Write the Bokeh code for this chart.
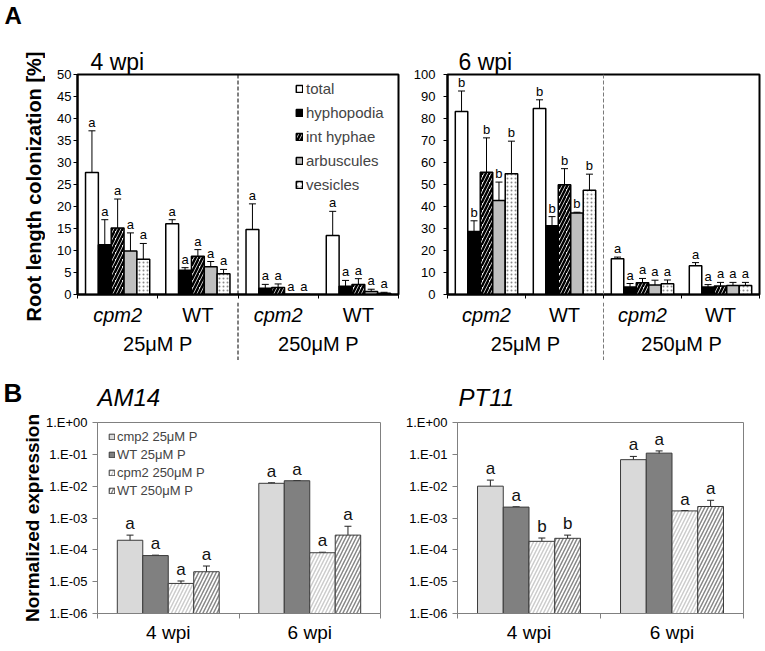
from bokeh.plotting import figure
from bokeh.models import (ColumnDataSource, FixedTicker, Whisker, TeeHead, Legend,
                          LegendItem, Span)
from bokeh.layouts import row, column
from bokeh.embed import file_html
from bokeh.resources import INLINE
from bokeh.core.properties import value

FONT = "Liberation Sans"

# ---------------- Panel A data (root length colonization, %) ----------------
genotypes = ["cpm2", "WT", "cpm2", "WT"]
phosphate = ["25μM P", "250μM P"]
structures = ["total", "hyphopodia", "int hyphae", "arbuscules", "vesicles"]

# 4 wpi  (groups: cpm2 25µM, WT 25µM, cpm2 250µM, WT 250µM)
w4_total = [27.7, 16.1, 14.8, 13.4]
w4_total_err = [9.5, 0.9, 5.8, 5.5]
w4_hyphopodia = [11.3, 5.5, 1.4, 1.9]
w4_hyphopodia_err = [5.7, 0.6, 0.9, 1.3]
w4_inthyphae = [15.1, 8.7, 1.6, 2.3]
w4_inthyphae_err = [6.6, 1.5, 0.8, 1.3]
w4_arbuscules = [9.9, 6.3, 0.0, 0.7]
w4_arbuscules_err = [4.1, 1.2, 0.0, 0.5]
w4_vesicles = [8.0, 4.7, 0.0, 0.3]
w4_vesicles_err = [3.6, 1.0, 0.0, 0.2]
w4_letters = ["a", "a", "a", "a"]
w4_yticks = [0, 5, 10, 15, 20, 25, 30, 35, 40, 45, 50]

# 6 wpi
w6_total = [83.2, 84.5, 16.2, 13.1]
w6_total_err = [9.3, 4.0, 0.8, 1.4]
w6_hyphopodia = [28.6, 31.2, 3.4, 3.4]
w6_hyphopodia_err = [4.9, 4.2, 1.6, 1.1]
w6_inthyphae = [55.6, 49.9, 5.3, 3.9]
w6_inthyphae_err = [15.6, 7.3, 2.0, 1.6]
w6_arbuscules = [42.7, 37.1, 4.3, 4.1]
w6_arbuscules_err = [8.4, 0.3, 2.2, 1.4]
w6_vesicles = [54.9, 47.4, 4.9, 4.1]
w6_vesicles_err = [14.8, 7.3, 1.7, 1.4]
w6_letters = ["b", "b", "a", "a"]
w6_yticks = [0, 10, 20, 30, 40, 50, 60, 70, 80, 90, 100]

# ---------------- Panel B data (normalized expression) ----------------
wpi_labels = ["4 wpi", "6 wpi"]
series_b = ["cmp2 25μM P", "WT 25μM P", "cpm2 250μM P", "WT 250μM P"]
b_tick_values = [1e-6, 1e-5, 1e-4, 1e-3, 1e-2, 1e-1, 1.0]
b_tick_labels = ["1.E-06", "1.E-05", "1.E-04", "1.E-03", "1.E-02", "1.E-01", "1.E+00"]

am14_c25 = [2.0e-4, 1.23e-2]
am14_c25_hi = [2.9e-4, 1.28e-2]
am14_c25_lo = [1.15e-4, 1.18e-2]
am14_w25 = [6.6e-5, 1.48e-2]
am14_w25_hi = [6.8e-5, 1.5e-2]
am14_w25_lo = [6.4e-5, 1.46e-2]
am14_c250 = [8.8e-6, 8.1e-5]
am14_c250_hi = [1.05e-5, 8.4e-5]
am14_c250_lo = [7.4e-6, 7.8e-5]
am14_w250 = [2.05e-5, 2.9e-4]
am14_w250_hi = [3.1e-5, 5.5e-4]
am14_w250_lo = [1.25e-5, 3.7e-5]
am14_letters = [["a", "a"], ["a", "a"], ["a", "a"], ["a", "a"]]

pt11_c25 = [1.0e-2, 6.8e-2]
pt11_c25_hi = [1.55e-2, 8.6e-2]
pt11_c25_lo = [4.6e-3, 5.0e-2]
pt11_w25 = [2.2e-3, 0.109]
pt11_w25_hi = [2.25e-3, 0.128]
pt11_w25_lo = [2.15e-3, 0.086]
pt11_c250 = [1.85e-4, 1.67e-3]
pt11_c250_hi = [2.35e-4, 1.7e-3]
pt11_c250_lo = [1.37e-4, 1.64e-3]
pt11_w250 = [2.3e-4, 2.3e-3]
pt11_w250_hi = [2.9e-4, 3.6e-3]
pt11_w250_lo = [1.8e-4, 9.6e-4]
pt11_letters = [["a", "a"], ["a", "a"], ["b", "a"], ["b", "a"]]


def strip(width, height, x_range=None, bl=0, br=0, flip=True):
    """A figure without axes that only carries texts / separators."""
    p = figure(width=width, height=height, min_border_left=bl, min_border_right=br,
               min_border_top=0, min_border_bottom=0,
               x_range=x_range if x_range is not None else (0, width),
               y_range=(height, 0) if flip else (0, height),
               x_axis_location=None, y_axis_location=None,
               output_backend="svg", toolbar_location=None, tools="",
               background_fill_color="white", border_fill_color="white")
    p.grid.visible = False
    p.outline_line_color = None
    return p


def put_text(p, xs, ys, texts, size, style="normal", align="left", baseline="middle",
             angle=0):
    p.text(x=xs, y=ys, text=texts, text_font=value(FONT), text_font_size=size,
           text_font_style=style, text_align=align, text_baseline=baseline,
           text_color="black", angle=angle, angle_units="deg")


def set_title(p, text, offset, size, style):
    p.title.text = text
    p.title.align = "left"
    p.title.offset = offset
    p.title.standoff = 0
    p.title.text_font = FONT
    p.title.text_font_size = size
    p.title.text_font_style = style
    p.title.text_color = "black"


A_STYLES = [
    dict(fill_color="white"),
    dict(fill_color="black"),
    dict(fill_color="white", hatch_pattern="/", hatch_color="black",
         hatch_weight=2.5, hatch_scale=7),
    dict(fill_color="#bfbfbf"),
    dict(fill_color="white", hatch_pattern=".", hatch_color="#8a8a8a",
         hatch_weight=1, hatch_scale=4),
]
A_OFFSETS = [-0.32, -0.16, 0.0, 0.16, 0.32]


def panel_a(width, height, bl, br, bt, bb, ymax, yticks, means, errs, letters,
            dash_color, label_standoff, legend=False):
    p = figure(width=width, height=height, min_border_left=bl, min_border_right=br,
               min_border_top=bt, min_border_bottom=bb, x_range=(0, 4),
               y_range=(0, ymax), output_backend="svg", toolbar_location=None,
               tools="", background_fill_color="white", border_fill_color="white")
    p.grid.visible = False
    p.outline_line_color = "black"
    p.outline_line_width = 2
    p.add_layout(Span(location=2, dimension="height", line_dash="4 2",
                      line_color=dash_color, line_width=1))

    items = []
    for i, (name, vals, err) in enumerate(zip(structures, means, errs)):
        xs = [g + 0.5 + A_OFFSETS[i] for g in range(len(vals))]
        hi = [v + e for v, e in zip(vals, err)]
        src = ColumnDataSource(dict(x=xs, top=vals, hi=hi, letter=letters))
        r = p.vbar(x="x", top="top", width=0.16, source=src, line_color="black",
                   line_width=1.5, **A_STYLES[i])
        items.append(LegendItem(label=name, renderers=[r]))
        wsrc = ColumnDataSource(dict(
            x=[x for x, e in zip(xs, err) if e > 0],
            hi=[v + e for v, e in zip(vals, err) if e > 0],
            lo=[max(0, v - e) for v, e in zip(vals, err) if e > 0]))
        p.add_layout(Whisker(base="x", upper="hi", lower="lo", source=wsrc,
                             line_color="black", line_width=1,
                             upper_head=TeeHead(size=7, line_width=1, line_color="black"),
                             lower_head=TeeHead(size=7, line_width=1, line_color="black")))
        p.text(x="x", y="hi", text="letter", source=src, text_align="center",
               text_baseline="bottom", y_offset=-1, text_font=value(FONT),
               text_font_size="13px", text_color="black")

    ya = p.yaxis[0]
    ya.ticker = FixedTicker(ticks=yticks)
    ya.major_tick_out = 4
    ya.major_tick_in = 0
    ya.minor_tick_out = 0
    ya.minor_tick_in = 0
    ya.axis_line_width = 2
    ya.major_label_standoff = label_standoff
    ya.major_label_text_font = FONT
    ya.major_label_text_font_size = "13px"
    ya.major_label_text_color = "black"

    xa = p.xaxis[0]
    xa.ticker = FixedTicker(ticks=[], minor_ticks=[0, 1, 2, 3, 4])
    xa.major_tick_out = 4
    xa.major_tick_in = 0
    xa.minor_tick_out = 4
    xa.minor_tick_in = 0
    xa.major_label_standoff = 0
    xa.axis_line_width = 2

    if legend:
        lg = Legend(items=items, location=(218, 101), glyph_width=8, glyph_height=9,
                    label_height=17, spacing=7, label_text_font=FONT,
                    label_text_font_size="15px", label_standoff=3, padding=0,
                    margin=0, border_line_color=None, background_fill_alpha=0)
        p.add_layout(lg)
    return p


def label_strip(main, width, height, bl, br, dash_color):
    s = strip(width, height, x_range=main.x_range, bl=bl, br=br)
    s.add_layout(Span(location=2, dimension="height", line_dash="4 2",
                      line_color=dash_color, line_width=1))
    gx = [g + 0.5 for g in range(len(genotypes))]
    put_text(s, [x for x, n in zip(gx, genotypes) if n != "WT"], [12, 12],
             [n for n in genotypes if n != "WT"], "20px", style="italic", align="center")
    put_text(s, [x for x, n in zip(gx, genotypes) if n == "WT"], [12, 12],
             [n for n in genotypes if n == "WT"], "20px", align="center")
    put_text(s, [1, 3], [41, 41], phosphate, "20px", align="center")
    return s


B_STYLES = [
    dict(fill_color="#d9d9d9"),
    dict(fill_color="#808080"),
    dict(fill_color="white", hatch_pattern="/", hatch_color="#cccccc",
         hatch_weight=1.5, hatch_scale=7),
    dict(fill_color="white", hatch_pattern="/", hatch_color="#888888",
         hatch_weight=1.5, hatch_scale=7),
]
B_OFFSETS = [-0.27, -0.09, 0.09, 0.27]


def panel_b(width, height, bl, br, bt, bb, means, his, los, letters, ylabel=None,
            legend=False):
    p = figure(width=width, height=height, min_border_left=bl, min_border_right=br,
               min_border_top=bt, min_border_bottom=bb, x_range=(0, 2),
               y_range=(b_tick_values[0], b_tick_values[-1]), y_axis_type="log",
               output_backend="svg", toolbar_location=None, tools="",
               background_fill_color="white", border_fill_color="white")
    p.grid.visible = False
    p.outline_line_color = "#808080"
    p.outline_line_width = 1
    items = []
    for i, (name, vals, hi, lo, let) in enumerate(zip(series_b, means, his, los, letters)):
        xs = [g + 0.5 + B_OFFSETS[i] for g in range(len(vals))]
        src = ColumnDataSource(dict(x=xs, top=vals, hi=hi, lo=lo, letter=let))
        r = p.vbar(x="x", top="top", bottom=b_tick_values[0], width=0.18, source=src,
                   line_color="#3a3a3a", line_width=1, **B_STYLES[i])
        items.append(LegendItem(label=name, renderers=[r]))
        p.add_layout(Whisker(base="x", upper="hi", lower="lo", source=src,
                             line_color="#222222", line_width=1,
                             upper_head=TeeHead(size=7, line_width=1, line_color="#222222"),
                             lower_head=TeeHead(size=7, line_width=1, line_color="#222222")))
        p.text(x="x", y="hi", text="letter", source=src, text_align="center",
               text_baseline="bottom", y_offset=-2, text_font=value(FONT),
               text_font_size="17px", text_color="#111111")

    ya = p.yaxis[0]
    ya.ticker = FixedTicker(ticks=b_tick_values)
    ya.major_label_overrides = dict(zip(b_tick_values, b_tick_labels))
    ya.major_tick_out = 5
    ya.major_tick_in = 0
    ya.minor_tick_out = 0
    ya.minor_tick_in = 0
    ya.axis_line_color = "#808080"
    ya.major_tick_line_color = "#808080"
    ya.major_label_standoff = 5
    ya.major_label_text_font = FONT
    ya.major_label_text_font_size = "13px"
    ya.major_label_text_color = "black"
    if ylabel:
        ya.axis_label = ylabel
        ya.axis_label_text_font = FONT
        ya.axis_label_text_font_size = "19px"
        ya.axis_label_text_font_style = "bold"
        ya.axis_label_standoff = 0
        ya.axis_label_text_color = "black"

    xa = p.xaxis[0]
    xa.ticker = FixedTicker(ticks=[0.5, 1.5], minor_ticks=[0, 1, 2])
    xa.major_label_overrides = {0.5: wpi_labels[0], 1.5: wpi_labels[1]}
    xa.major_tick_out = 0
    xa.major_tick_in = 0
    xa.minor_tick_out = 5
    xa.minor_tick_in = 0
    xa.axis_line_color = "#808080"
    xa.minor_tick_line_color = "#808080"
    xa.major_label_standoff = 3
    xa.major_label_text_font = FONT
    xa.major_label_text_font_size = "19px"
    xa.major_label_text_color = "black"

    if legend:
        lg = Legend(items=items, location=(11, 115), glyph_width=7, glyph_height=7,
                    label_height=15, spacing=3, label_text_font=FONT,
                    label_text_font_size="13px", label_standoff=2, padding=0,
                    margin=0, border_line_color=None, background_fill_alpha=0)
        p.add_layout(lg)
    return p


# ---------------- Build the page ----------------
WL, W1, W2 = 45, 360, 356          # left strip, 4 wpi column, 6 wpi column
HA, HL, HS, HB = 302, 58, 51, 234  # A plots, A labels, B header, B plots

leftA = strip(WL, HA + HL, flip=False)
put_text(leftA, [4], [HA + HL - 15], ["A"], "24px", style="bold")
put_text(leftA, [33], [HA + HL - 186], ["Root length colonization [%]"], "20px",
         style="bold", align="center", angle=90)

pA1 = panel_a(W1, HA, 32, 7, 74, 8, 50, w4_yticks,
              [w4_total, w4_hyphopodia, w4_inthyphae, w4_arbuscules, w4_vesicles],
              [w4_total_err, w4_hyphopodia_err, w4_inthyphae_err,
               w4_arbuscules_err, w4_vesicles_err],
              w4_letters, "black", 2, legend=True)
set_title(pA1, "4 wpi", 13, "23px", "normal")

pA2 = panel_a(W2, HA, 42, 2, 74, 8, 100, w6_yticks,
              [w6_total, w6_hyphopodia, w6_inthyphae, w6_arbuscules, w6_vesicles],
              [w6_total_err, w6_hyphopodia_err, w6_inthyphae_err,
               w6_arbuscules_err, w6_vesicles_err],
              w6_letters, "#7a7a7a", 8)
set_title(pA2, "6 wpi", 11, "23px", "normal")

labA1 = label_strip(pA1, W1, HL, 32, 7, "black")
labA2 = label_strip(pA2, W2, HL, 42, 2, "#7a7a7a")

stripB = strip(WL + W1 + W2, HS)
put_text(stripB, [3], [32], ["B"], "26px", style="bold")
put_text(stripB, [97], [37], ["AM14"], "24px", style="italic")
put_text(stripB, [458], [37], ["PT11"], "24px", style="italic")

pB1 = panel_b(400, HB, 97, 20, 11, 26,
              [am14_c25, am14_w25, am14_c250, am14_w250],
              [am14_c25_hi, am14_w25_hi, am14_c250_hi, am14_w250_hi],
              [am14_c25_lo, am14_w25_lo, am14_c250_lo, am14_w250_lo],
              am14_letters, ylabel="Normalized expression", legend=True)
pB2 = panel_b(WL + W1 + W2 - 400, HB, 57, 18, 11, 26,
              [pt11_c25, pt11_w25, pt11_c250, pt11_w250],
              [pt11_c25_hi, pt11_w25_hi, pt11_c250_hi, pt11_w250_hi],
              [pt11_c25_lo, pt11_w25_lo, pt11_c250_lo, pt11_w250_lo],
              pt11_letters)

sectionA = row(leftA, column(row(pA1, pA2), row(labA1, labA2)))
layout = column(sectionA, row(stripB), row(pB1, pB2))

with open("out.html", "w") as f:
    f.write(file_html(layout, INLINE))
